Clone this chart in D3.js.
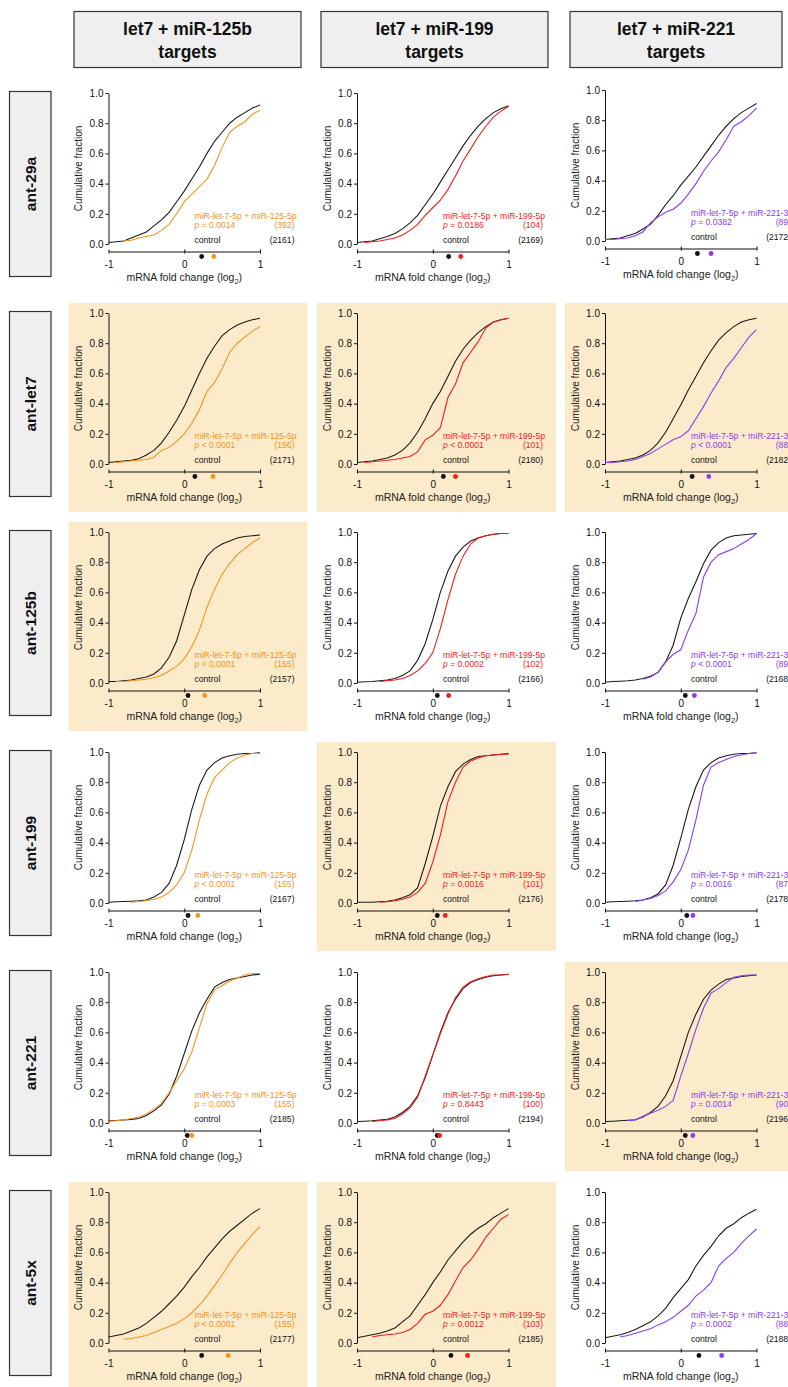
<!DOCTYPE html>
<html><head><meta charset="utf-8">
<script src="https://cdn.jsdelivr.net/npm/d3@7"></script>
<style>
body{margin:0;background:#fff}
svg{display:block}
text{font-family:Arial,"Liberation Sans",Helvetica,sans-serif}
</style>
</head><body>
<svg id="c" width="788" height="1387"></svg>
<script>
// ---------- DATA ----------
const colTitles = [["let7 + miR-125b","targets"],["let7 + miR-199","targets"],["let7 + miR-221","targets"]];
const rowLabels = ["ant-29a","ant-let7","ant-125b","ant-199","ant-221","ant-5x"];
const seriesNames = ["miR-let-7-5p + miR-125-5p","miR-let-7-5p + miR-199-5p","miR-let-7-5p + miR-221-3p"];
const seriesColors = ["#f7931e","#f21d1d","#8b3cf0"];
const xGrid = [-1,-0.9,-0.8,-0.7,-0.6,-0.5,-0.4,-0.3,-0.2,-0.1,0,0.1,0.2,0.3,0.4,0.5,0.6,0.7,0.8,0.9,1];
const yTicks = [0,0.2,0.4,0.6,0.8,1.0];
const xTicks = [-1,0,1];
const highlight = [[0,0,0],[1,1,1],[1,0,0],[0,1,0],[0,0,1],[1,1,0]];

const pValues = [
  ["= 0.0014","= 0.0186","= 0.0382"],
  ["< 0.0001","< 0.0001","< 0.0001"],
  ["< 0.0001","= 0.0002","< 0.0001"],
  ["< 0.0001","= 0.0016","= 0.0016"],
  ["= 0.0003","= 0.8443","= 0.0014"],
  ["< 0.0001","= 0.0012","= 0.0002"]];
const nTargets = [[392,104,89],[156,101,88],[155,102,89],[155,101,87],[155,100,90],[155,103,88]];
const nControl = [[2161,2169,2172],[2171,2180,2182],[2157,2166,2168],[2167,2176,2178],[2185,2194,2196],[2177,2185,2188]];
const controlMedians = [[0.23,0.21,0.22],[0.14,0.14,0.15],[0.05,0.06,0.06],[0.05,0.06,0.08],[0.04,0.06,0.06],[0.23,0.24,0.24]];
const targetMedians  = [[0.39,0.37,0.40],[0.38,0.30,0.37],[0.27,0.21,0.18],[0.18,0.165,0.16],[0.10,0.09,0.16],[0.58,0.46,0.54]];

// cumulative fractions on xGrid, one array per column, per row
const control_29a = [
  [0.01,0.015,0.02,0.04,0.06,0.08,0.12,0.16,0.21,0.28,0.35,0.43,0.51,0.60,0.68,0.74,0.80,0.84,0.87,0.90,0.92],
  [0.01,0.015,0.02,0.035,0.05,0.07,0.10,0.14,0.19,0.26,0.33,0.41,0.49,0.57,0.65,0.72,0.78,0.83,0.87,0.895,0.915],
  [0.01,0.015,0.02,0.035,0.05,0.08,0.11,0.17,0.24,0.30,0.37,0.43,0.49,0.56,0.63,0.70,0.76,0.81,0.85,0.88,0.91]];
const targets_29a = [
  [null,null,0.02,0.025,0.04,0.05,0.06,0.09,0.13,0.20,0.28,0.33,0.38,0.43,0.52,0.64,0.74,0.78,0.81,0.86,0.885],
  [null,0.01,0.015,0.02,0.03,0.04,0.06,0.09,0.13,0.19,0.24,0.29,0.36,0.45,0.55,0.63,0.71,0.78,0.84,0.88,0.91],
  [0.01,0.01,0.015,0.02,0.035,0.06,0.12,0.16,0.19,0.21,0.25,0.31,0.38,0.46,0.53,0.59,0.67,0.76,0.79,0.83,0.88]];
const control_let7 = [
  [0.01,0.015,0.02,0.025,0.035,0.06,0.09,0.14,0.21,0.29,0.38,0.49,0.60,0.70,0.78,0.85,0.89,0.92,0.94,0.955,0.965],
  [0.01,0.015,0.02,0.03,0.04,0.06,0.09,0.14,0.21,0.30,0.40,0.48,0.58,0.68,0.76,0.82,0.87,0.91,0.94,0.955,0.965],
  [0.01,0.015,0.02,0.03,0.04,0.06,0.09,0.14,0.21,0.30,0.39,0.49,0.58,0.67,0.75,0.82,0.87,0.91,0.94,0.955,0.965]];
const targets_let7 = [
  [null,0.01,0.015,0.02,0.025,0.03,0.045,0.09,0.11,0.15,0.20,0.27,0.36,0.48,0.54,0.63,0.74,0.80,0.84,0.88,0.91],
  [null,0.01,0.015,0.02,0.025,0.03,0.04,0.05,0.08,0.16,0.19,0.24,0.44,0.53,0.67,0.74,0.81,0.90,0.94,0.955,0.965],
  [0.01,0.01,0.015,0.02,0.03,0.05,0.07,0.10,0.13,0.16,0.18,0.22,0.30,0.38,0.47,0.55,0.64,0.70,0.77,0.84,0.89]];
const control_125b = [
  [0.01,0.01,0.015,0.02,0.03,0.04,0.06,0.10,0.17,0.28,0.45,0.62,0.75,0.84,0.89,0.92,0.94,0.96,0.97,0.975,0.98],
  [0.005,0.008,0.01,0.015,0.02,0.03,0.05,0.08,0.15,0.26,0.42,0.60,0.74,0.84,0.90,0.94,0.96,0.975,0.985,0.99,0.99],
  [0.005,0.01,0.012,0.015,0.02,0.03,0.045,0.07,0.14,0.25,0.43,0.56,0.67,0.79,0.88,0.93,0.96,0.975,0.98,0.985,0.99]];
const targets_125b = [
  [null,0.01,0.01,0.015,0.02,0.025,0.035,0.05,0.08,0.11,0.16,0.24,0.35,0.50,0.62,0.72,0.79,0.85,0.89,0.93,0.96],
  [null,null,null,0.01,0.015,0.02,0.03,0.05,0.08,0.13,0.20,0.36,0.55,0.72,0.84,0.92,0.96,0.975,0.985,0.99,0.99],
  [null,null,null,null,null,0.025,0.04,0.07,0.14,0.19,0.22,0.35,0.46,0.70,0.80,0.85,0.87,0.89,0.92,0.95,0.99]];
const control_199 = [
  [0.005,0.008,0.01,0.012,0.015,0.02,0.04,0.07,0.13,0.25,0.42,0.62,0.78,0.88,0.93,0.96,0.975,0.985,0.99,0.99,0.995],
  [0.005,0.005,0.005,0.008,0.012,0.02,0.035,0.055,0.10,0.26,0.44,0.64,0.77,0.87,0.92,0.95,0.97,0.975,0.98,0.985,0.99],
  [0.005,0.008,0.01,0.012,0.015,0.02,0.035,0.06,0.12,0.25,0.43,0.62,0.77,0.88,0.93,0.96,0.975,0.985,0.99,0.99,0.995]];
const targets_199 = [
  [null,null,null,0.005,0.01,0.015,0.025,0.04,0.07,0.12,0.20,0.35,0.55,0.72,0.83,0.88,0.93,0.96,0.98,0.99,0.99],
  [null,null,null,0.005,0.008,0.015,0.025,0.04,0.07,0.13,0.27,0.45,0.67,0.80,0.90,0.94,0.96,0.975,0.98,0.985,0.985],
  [null,null,null,null,0.01,0.02,0.03,0.05,0.08,0.14,0.22,0.35,0.55,0.78,0.90,0.93,0.95,0.97,0.98,0.99,0.995]];
const control_221 = [
  [0.015,0.017,0.02,0.024,0.03,0.05,0.08,0.12,0.19,0.31,0.46,0.61,0.73,0.82,0.90,0.93,0.95,0.96,0.97,0.98,0.985],
  [0.01,0.012,0.015,0.02,0.025,0.04,0.07,0.11,0.18,0.30,0.45,0.60,0.73,0.82,0.89,0.93,0.95,0.965,0.975,0.98,0.985],
  [0.01,0.012,0.015,0.018,0.022,0.04,0.07,0.11,0.18,0.28,0.44,0.60,0.72,0.82,0.88,0.92,0.95,0.96,0.97,0.975,0.98]];
const targets_221 = [
  [0.012,0.015,0.02,0.03,0.04,0.06,0.09,0.13,0.20,0.28,0.36,0.47,0.63,0.79,0.88,0.91,0.94,0.96,0.98,0.99,0.99],
  [null,null,0.01,0.015,0.02,0.03,0.06,0.10,0.17,0.31,0.45,0.59,0.72,0.83,0.90,0.935,0.955,0.97,0.98,0.98,0.985],
  [null,null,null,0.015,0.02,0.045,0.065,0.085,0.11,0.15,0.31,0.46,0.62,0.76,0.86,0.89,0.93,0.965,0.975,0.98,0.98]];
const control_5x = [
  [0.04,0.05,0.06,0.08,0.10,0.13,0.17,0.21,0.26,0.31,0.37,0.44,0.50,0.57,0.63,0.69,0.74,0.78,0.82,0.86,0.89],
  [0.035,0.045,0.055,0.065,0.08,0.10,0.14,0.18,0.25,0.32,0.40,0.47,0.55,0.61,0.67,0.72,0.76,0.79,0.83,0.86,0.89],
  [0.035,0.045,0.055,0.07,0.09,0.115,0.14,0.18,0.23,0.30,0.36,0.42,0.51,0.58,0.64,0.71,0.76,0.79,0.83,0.86,0.885]];
const targets_5x = [
  [null,null,0.025,0.03,0.04,0.05,0.07,0.09,0.11,0.13,0.16,0.20,0.25,0.31,0.38,0.45,0.53,0.60,0.66,0.72,0.77],
  [null,null,0.04,0.05,0.055,0.06,0.07,0.09,0.13,0.19,0.21,0.25,0.32,0.41,0.50,0.55,0.62,0.70,0.76,0.82,0.85],
  [null,null,0.04,0.05,0.065,0.08,0.095,0.12,0.14,0.17,0.21,0.25,0.31,0.35,0.40,0.51,0.56,0.60,0.66,0.71,0.755]];

const controlCurves = [control_29a, control_let7, control_125b, control_199, control_221, control_5x];
const targetCurves  = [targets_29a, targets_let7, targets_125b, targets_199, targets_221, targets_5x];

// ---------- LAYOUT ----------
const colLeft = [108.5, 357, 605];
const rowTop = [93, 313, 532, 752, 972, 1192];
const pw = 151.5, ph = 151;
const headerX = [74, 321, 570], headerW = [227, 227, 212];
const FONT = "Arial, 'Liberation Sans', sans-serif";

const svg = d3.select("#c");
const x = d3.scaleLinear().domain([-1,1]).range([0,pw]);
const y = d3.scaleLinear().domain([0,1]).range([ph,0]);

// column headers
colTitles.forEach((t,i)=>{
  svg.append("rect").attr("x",headerX[i]).attr("y",11.5).attr("width",headerW[i]).attr("height",56)
    .attr("fill","#efefef").attr("stroke","#333").attr("stroke-width",1.2);
  const cx = headerX[i]+headerW[i]/2;
  svg.append("text").attr("x",cx).attr("y",35).attr("text-anchor","middle")
    .attr("font-size",17.5).attr("font-weight","bold").attr("fill","#111").text(t[0]);
  svg.append("text").attr("x",cx).attr("y",58).attr("text-anchor","middle")
    .attr("font-size",17.5).attr("font-weight","bold").attr("fill","#111").text(t[1]);
});

// row labels
rowLabels.forEach((lab,r)=>{
  svg.append("rect").attr("x",9.5).attr("y",rowTop[r]-1.5).attr("width",41.5).attr("height",185)
    .attr("fill","#efefef").attr("stroke","#333").attr("stroke-width",1.2);
  svg.append("text").attr("transform",`translate(30,${rowTop[r]+91}) rotate(-90)`)
    .attr("text-anchor","middle").attr("dominant-baseline","central")
    .attr("font-size",15.5).attr("font-weight","bold").attr("fill","#111").text(lab);
});

const line = d3.line().defined(d=>d[1]!=null).x(d=>x(d[0])).y(d=>y(d[1]));

for(let r=0;r<6;r++){
  for(let c=0;c<3;c++){
    const shift = (r===0 && c===2) ? -3 : 0;
    const g = svg.append("g").attr("transform",`translate(${colLeft[c]},${rowTop[r]+shift})`);
    if(highlight[r][c]){
      g.append("rect").attr("x",-40).attr("y",-10).attr("width",239).attr("height",209).attr("fill","#fcebcb");
    }
    // y axis
    const ya = g.append("g").call(d3.axisLeft(y).tickValues(yTicks).tickFormat(d3.format(".1f")).tickSize(3).tickSizeOuter(0).tickPadding(2));
    ya.selectAll("text").attr("font-size",10).attr("fill","#111").style("font-family",FONT);
    ya.selectAll("path,line").attr("stroke","#111");
    // x axis
    const xa = g.append("g").attr("transform",`translate(0,${ph+7.5})`)
      .call(d3.axisBottom(x).tickValues(xTicks).tickFormat(d=>String(d)).tickSizeInner(2).tickSizeOuter(0).tickPadding(7));
    xa.selectAll(".tick line").attr("y1",-2).attr("y2",2);
    xa.selectAll("text").attr("font-size",10).attr("fill","#111").style("font-family",FONT);
    xa.selectAll("path,line").attr("stroke","#111");
    // axis titles
    g.append("text").attr("transform",`translate(-26.5,${ph/2}) rotate(-90)`).attr("text-anchor","middle")
      .attr("font-size",10).attr("fill","#222").text("Cumulative fraction");
    const xt = g.append("text").attr("x",pw/2).attr("y",ph+37).attr("text-anchor","middle").attr("font-size",10.5).attr("fill","#222");
    xt.append("tspan").text("mRNA fold change (log");
    xt.append("tspan").attr("dy",3).attr("font-size",7.5).text("2");
    xt.append("tspan").attr("dy",-3).text(")");
    // curves
    const ctrl = xGrid.map((v,i)=>[v,controlCurves[r][c][i]]);
    const tgt = xGrid.map((v,i)=>[v,targetCurves[r][c][i]]);
    g.append("path").attr("d",line(ctrl)).attr("fill","none").attr("stroke","#1a1a1a").attr("stroke-width",1.1);
    g.append("path").attr("d",line(tgt)).attr("fill","none").attr("stroke",seriesColors[c]).attr("stroke-width",1.1);
    // median dots
    g.append("circle").attr("cx",x(controlMedians[r][c])).attr("cy",ph+12.5).attr("r",2.4).attr("fill","#111");
    g.append("circle").attr("cx",x(targetMedians[r][c])).attr("cy",ph+12.5).attr("r",2.4).attr("fill",seriesColors[c]);
    // legend
    const fs = 8.6;
    g.append("text").attr("x",86).attr("y",126).attr("font-size",fs).attr("fill",seriesColors[c]).text(seriesNames[c]);
    const pt = g.append("text").attr("x",86).attr("y",134.5).attr("font-size",fs).attr("fill",seriesColors[c]);
    pt.append("tspan").attr("font-style","italic").text("p");
    pt.append("tspan").text(" "+pValues[r][c]);
    g.append("text").attr("x",186).attr("y",134.5).attr("text-anchor","end").attr("font-size",fs).attr("fill",seriesColors[c]).text(`(${nTargets[r][c]})`);
    g.append("text").attr("x",86).attr("y",149.5).attr("font-size",fs).attr("fill","#111").text("control");
    g.append("text").attr("x",186).attr("y",149.5).attr("text-anchor","end").attr("font-size",fs).attr("fill","#111").text(`(${nControl[r][c]})`);
  }
}
</script>
</body></html>
